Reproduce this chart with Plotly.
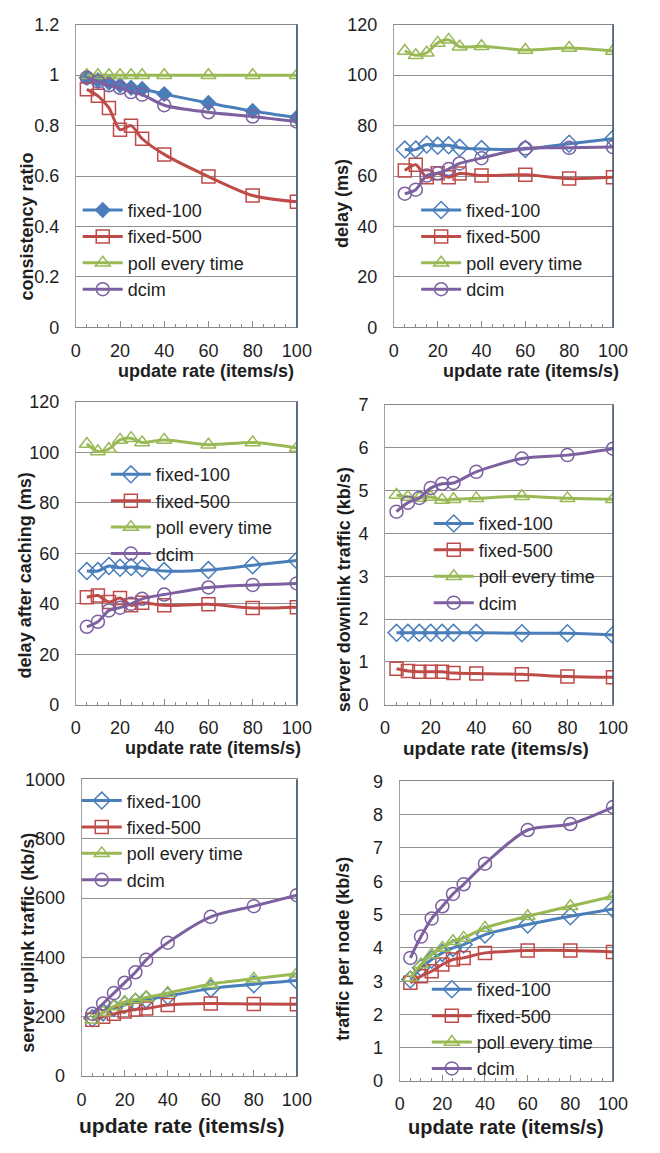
import plotly.graph_objects as go

# ---------------- data ----------------
x_rate = [5, 10, 15, 20, 25, 30, 40, 60, 80, 100]
series_names = ["fixed-100", "fixed-500", "poll every time", "dcim"]

# consistency ratio
c_fixed100 = [0.99, 0.98, 0.97, 0.96, 0.95, 0.945, 0.925, 0.89, 0.858, 0.832]
c_fixed500 = [0.944, 0.918, 0.87, 0.784, 0.80, 0.748, 0.686, 0.598, 0.523, 0.498]
c_poll = [1.0, 1.0, 1.0, 1.0, 1.0, 1.0, 1.0, 1.0, 1.0, 1.0]
c_dcim = [0.99, 0.975, 0.96, 0.95, 0.933, 0.923, 0.881, 0.853, 0.836, 0.816]

# delay (ms)
d_fixed100 = [70.5, 70.5, 72.5, 72.0, 72.2, 71.2, 70.7, 70.7, 72.8, 74.8]
d_fixed500 = [62.2, 64.5, 59.5, 61.1, 59.5, 61.0, 60.2, 60.5, 59.0, 59.5]
d_poll = [109.6, 107.9, 108.9, 112.8, 114.0, 111.3, 111.5, 110.0, 110.8, 109.6]
d_dcim = [53.0, 54.6, 60.2, 61.1, 62.8, 65.0, 67.1, 71.0, 71.2, 71.5]

# delay after caching (ms)
a_fixed100 = [53.0, 53.0, 55.0, 54.3, 54.6, 54.1, 53.0, 53.4, 55.3, 57.2]
a_fixed500 = [42.6, 43.3, 40.7, 42.3, 39.4, 40.4, 39.4, 39.8, 38.4, 38.7]
a_poll = [103.4, 100.4, 101.4, 105.0, 105.7, 104.0, 105.0, 103.1, 104.0, 101.8]
a_dcim = [30.9, 32.9, 37.4, 38.5, 40.0, 42.0, 43.7, 46.5, 47.5, 48.1]

# server downlink traffic (kb/s)
dl_fixed100 = [1.68, 1.68, 1.68, 1.68, 1.68, 1.68, 1.68, 1.67, 1.67, 1.63]
dl_fixed500 = [0.84, 0.79, 0.77, 0.77, 0.77, 0.74, 0.73, 0.71, 0.66, 0.64]
dl_poll = [4.9, 4.85, 4.83, 4.85, 4.78, 4.8, 4.82, 4.87, 4.82, 4.8]
dl_dcim = [4.51, 4.72, 4.83, 5.06, 5.16, 5.18, 5.44, 5.75, 5.83, 5.98]

# server uplink traffic (kb/s)
ul_fixed100 = [195, 215, 230, 240, 250, 258, 270, 295, 310, 322]
ul_fixed500 = [190, 200, 210, 218, 225, 228, 240, 245, 243, 242]
ul_poll = [190, 215, 235, 250, 258, 265, 280, 310, 328, 345]
ul_dcim = [210, 245, 280, 315, 350, 392, 450, 537, 573, 610]

# traffic per node (kb/s)
pn_fixed100 = [3.05, 3.4, 3.65, 3.85, 4.0, 4.1, 4.4, 4.7, 4.95, 5.17]
pn_fixed500 = [2.95, 3.15, 3.3, 3.5, 3.65, 3.7, 3.85, 3.92, 3.92, 3.88]
pn_poll = [3.1, 3.5, 3.8, 4.0, 4.2, 4.3, 4.6, 4.95, 5.25, 5.55]
pn_dcim = [3.7, 4.34, 4.88, 5.25, 5.62, 5.91, 6.53, 7.54, 7.72, 8.23]

y_titles = ["consistency ratio", "delay (ms)", "delay after caching (ms)",
            "server downlink traffic (kb/s)", "server uplink traffic (kb/s)",
            "traffic per node (kb/s)"]
x_title = "update rate (items/s)"
x_ticks = [0, 20, 40, 60, 80, 100]

# ---------------- styling / layout ----------------
W, H = 660, 1153
FONT = "Liberation Sans, Arial, sans-serif"
TXT = "#1e1e1e"
colors = ["#4A7EBB", "#BE4B48", "#98B954", "#7D60A0"]
open_symbols = ["diamond-open", "square-open", "triangle-up-open", "circle-open"]

panels = [
    dict(data=[c_fixed100, c_fixed500, c_poll, c_dcim], box=(73, 15, 301, 323),
         yr=[0, 1.2], dt=0.2, first_sym="diamond", leg=(83, 198), gap=1, xso=7,
         yt=(23, 220), xt=(207, 367), tfs=18),
    dict(data=[d_fixed100, d_fixed500, d_poll, d_dcim], box=(401, 15, 627, 323),
         yr=[0, 120], dt=20, first_sym=None, leg=(432, 198), gap=2, xso=7,
         yt=(347, 197), xt=(542, 367), tfs=18),
    dict(data=[a_fixed100, a_fixed500, a_poll, a_dcim], box=(73, 399, 301, 707),
         yr=[0, 120], dt=20, first_sym=None, leg=(112, 467), gap=2, xso=7,
         yt=(21, 575), xt=(215, 751), tfs=18),
    dict(data=[dl_fixed100, dl_fixed500, dl_poll, dl_dcim], box=(392, 402, 627, 707),
         yr=[0, 7], dt=1, first_sym=None, leg=(445, 517), gap=3, xso=7,
         yt=(349, 590), xt=(506, 752), tfs=19),
    dict(data=[ul_fixed100, ul_fixed500, ul_poll, ul_dcim], box=(79, 783, 301, 1085),
         yr=[0, 1000], dt=200, first_sym=None, leg=(82, 799), gap=3, xso=7,
         yt=(23, 949), xt=(182, 1135), tfs=21),
    dict(data=[pn_fixed100, pn_fixed500, pn_poll, pn_dcim], box=(407, 785, 627, 1090),
         yr=[0, 9], dt=1, first_sym=None, leg=(443, 991), gap=1, xso=6,
         yt=(349, 955), xt=(517, 1137), tfs=20),
]

fig = go.Figure()
layout = dict(width=W, height=H, margin=dict(l=0, r=0, t=0, b=0),
              paper_bgcolor="white", plot_bgcolor="white",
              font=dict(family=FONT, size=18, color=TXT), showlegend=True)
shapes = []
annotations = []

for i, p in enumerate(panels):
    k = i + 1
    xa = "xaxis" if k == 1 else f"xaxis{k}"
    ya = "yaxis" if k == 1 else f"yaxis{k}"
    xr = "x" if k == 1 else f"x{k}"
    yr = "y" if k == 1 else f"y{k}"
    lg = "legend" if k == 1 else f"legend{k}"
    x0, y0, x1, y1 = p["box"]
    layout[xa] = dict(domain=[x0 / W, x1 / W], range=[0, 100], anchor=yr,
                      tickvals=x_ticks, showgrid=False, zeroline=False,
                      showline=True, linecolor="#8a8a8a", linewidth=1, mirror=True,
                      ticks="inside", ticklen=6, tickcolor="#8a8a8a",
                      minor=dict(dtick=5, tick0=0, ticks="inside", ticklen=3,
                                 tickcolor="#8a8a8a", showgrid=False),
                      ticklabelstandoff=p["xso"],
                      tickfont=dict(family=FONT, size=18, color=TXT), fixedrange=True)
    layout[ya] = dict(domain=[1 - y1 / H, 1 - y0 / H], range=p["yr"], anchor=xr,
                      dtick=p["dt"], tick0=0, showgrid=True, gridcolor="#8f8f8f",
                      gridwidth=1, zeroline=False, showline=True, linecolor="#a0a0a0",
                      linewidth=1, mirror=True, ticks="", ticklabelstandoff=12,
                      tickfont=dict(family=FONT, size=18, color=TXT), fixedrange=True)
    # darker right-hand frame line
    shapes.append(dict(type="line", xref=f"{xr} domain", yref=f"{yr} domain",
                       x0=1, x1=1, y0=0, y1=1, line=dict(color="#3E5570", width=1.5)))
    lx, ly = p["leg"]
    layout[lg] = dict(x=(lx - 8) / W, y=1 - (ly - 13) / H, xanchor="left", yanchor="top",
                      bgcolor="rgba(0,0,0,0)", borderwidth=0, tracegroupgap=p["gap"],
                      font=dict(family=FONT, size=18, color=TXT), itemwidth=40,
                      traceorder="normal")
    for j, (name, vals) in enumerate(zip(series_names, p["data"])):
        sym = open_symbols[j]
        size = 13
        if j == 0 and p["first_sym"]:
            sym = p["first_sym"]
            size = 11
        fig.add_trace(go.Scatter(
            x=x_rate, y=vals, name=name, mode="lines+markers",
            xaxis=xr, yaxis=yr, legend=lg, legendgroup=f"g{k}_{j}",
            line=dict(color=colors[j], width=3, shape="spline", smoothing=0.8),
            marker=dict(symbol=sym, size=size, color=colors[j],
                        line=dict(color=colors[j], width=1.5)),
        ))
    tx, ty = p["yt"]
    annotations.append(dict(text=f"<b>{y_titles[i]}</b>", x=tx / W, y=1 - ty / H,
                            xref="paper", yref="paper", showarrow=False, textangle=-90,
                            xanchor="center", yanchor="middle",
                            font=dict(family=FONT, size=18, color=TXT)))
    tx, ty = p["xt"]
    annotations.append(dict(text=f"<b>{x_title}</b>", x=tx / W, y=1 - ty / H,
                            xref="paper", yref="paper", showarrow=False,
                            xanchor="center", yanchor="middle",
                            font=dict(family=FONT, size=p["tfs"], color=TXT)))

layout["shapes"] = shapes
layout["annotations"] = annotations
fig.update_layout(**layout)
fig.write_html("out.html")
